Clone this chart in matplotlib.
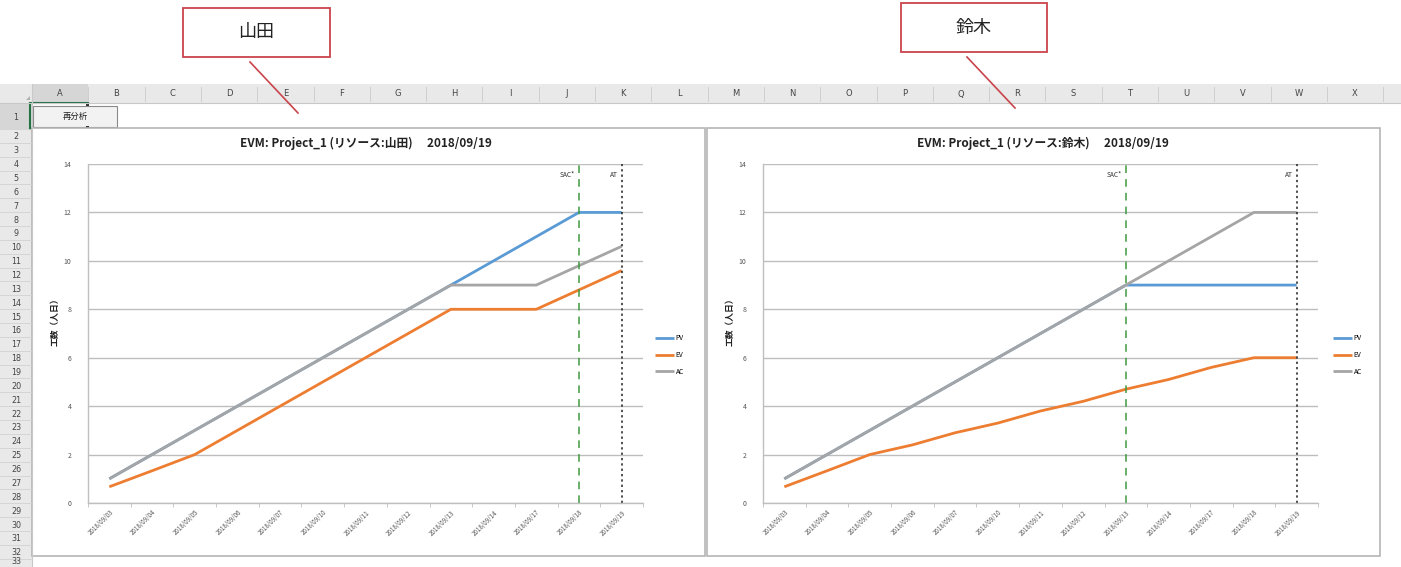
import matplotlib
matplotlib.use("Agg")
import matplotlib.pyplot as plt
from matplotlib.patches import Rectangle
from matplotlib.lines import Line2D

plt.rcParams['font.family'] = ['Noto Sans CJK JP', 'DejaVu Sans']

# ---------------- data ----------------
dates = ['2018/09/03', '2018/09/04', '2018/09/05', '2018/09/06', '2018/09/07',
         '2018/09/10', '2018/09/11', '2018/09/12', '2018/09/13', '2018/09/14',
         '2018/09/17', '2018/09/18', '2018/09/19']

yamada_pv = [1, 2, 3, 4, 5, 6, 7, 8, 9, 10, 11, 12, 12]
yamada_ev = [0.67, 1.33, 2, 3, 4, 5, 6, 7, 8, 8, 8, 8.8, 9.6]
yamada_ac = [1, 2, 3, 4, 5, 6, 7, 8, 9, 9, 9, 9.8, 10.6]

suzuki_pv = [1, 2, 3, 4, 5, 6, 7, 8, 9, 9, 9, 9, 9]
suzuki_ev = [0.67, 1.33, 2, 2.4, 2.9, 3.3, 3.8, 4.2, 4.7, 5.1, 5.6, 6, 6]
suzuki_ac = [1, 2, 3, 4, 5, 6, 7, 8, 9, 10, 11, 12, 12]

yamada_sac = '2018/09/18'
suzuki_sac = '2018/09/13'
at_date = '2018/09/19'

yticks = [0, 2, 4, 6, 8, 10, 12, 14]
columns = list('ABCDEFGHIJKLMNOPQRSTUVWX')
rows = list(range(1, 34))

titles = ['EVM: Project_1 (リソース:山田)\u3000 2018/09/19',
          'EVM: Project_1 (リソース:鈴木)\u3000 2018/09/19']
callouts = ['山田', '鈴木']

# ---------------- figure ----------------
W, H = 1401, 567
fig = plt.figure(figsize=(W / 100, H / 100), dpi=100)
fig.patch.set_facecolor('white')
bg = fig.add_axes([0, 0, 1, 1])
bg.set_xlim(0, W)
bg.set_ylim(H, 0)
bg.axis('off')

hdr_col = '#e9e9e9'
# column header bar
bg.add_patch(Rectangle((0, 84), W, 19, facecolor=hdr_col, edgecolor='none'))
bg.add_line(Line2D([0, W], [103, 103], color='#c8c8c8', lw=0.8))
# row header column
bg.add_patch(Rectangle((0, 84), 32, H - 84, facecolor=hdr_col, edgecolor='none'))
bg.add_line(Line2D([32, 32], [84, H], color='#c8c8c8', lw=0.8))

col_w = 56.3
x0 = 32
bg.add_patch(Rectangle((x0, 84), col_w, 19, facecolor='#d6d6d6', edgecolor='none'))
for i, c in enumerate(columns):
    cx = x0 + col_w * (i + 0.5)
    bg.text(cx, 94, c, ha='center', va='center', fontsize=6, color='#444444',
            family='DejaVu Sans')
    xb = x0 + col_w * (i + 1)
    bg.add_line(Line2D([xb, xb], [87, 101], color='#cfcfcf', lw=0.7))
# corner triangle
bg.add_patch(plt.Polygon([[26, 100], [30, 100], [30, 96]], closed=True,
                         facecolor='#b0b0b0', edgecolor='none'))

# rows
row_h = 13.86
for r in rows:
    if r == 1:
        cy, top, bot = 116, 103, 129
    else:
        top = 129 + row_h * (r - 2)
        bot = top + row_h
        cy = (top + bot) / 2
    if r == 1:
        bg.add_patch(Rectangle((0, top), 32, bot - top, facecolor='#d6d6d6', edgecolor='none'))
    ty = min(cy + 1, 561)
    bg.text(16, ty, str(r), ha='center', va='center', fontsize=5.8,
            color='#444444', family='DejaVu Sans')
    bg.add_line(Line2D([0, 32], [bot, bot], color='#d2d2d2', lw=0.6))

# button + selection
bg.add_patch(Rectangle((30, 103), 58, 26, facecolor='none', edgecolor='#217346', lw=1.5))
bg.add_patch(Rectangle((33, 106), 84, 21, facecolor='#f2f2f2', edgecolor='#8a8a8a', lw=0.8))
bg.text(75, 116.5, '再分析', ha='center', va='center', fontsize=6, color='#222222')
for hy in (104, 127):
    bg.add_patch(Rectangle((86, hy - 1.5), 3, 3, facecolor='#333333', edgecolor='none'))

# chart areas
chart_boxes = [(32, 128, 673, 428), (707, 128, 673, 428)]
for (cx, cy, cw, ch) in chart_boxes:
    bg.add_patch(Rectangle((cx, cy), cw, ch, facecolor='white', edgecolor='#b5b5b5', lw=1.2))

# callouts
red = '#c9444b'
callout_boxes = [(183, 8, 147, 49), (901, 3, 146, 49)]
callout_lines = [((250, 62), (298, 113)), ((967, 57), (1015, 108))]
for txt, (bx, by, bw, bh), (p1, p2) in zip(callouts, callout_boxes, callout_lines):
    bg.add_patch(Rectangle((bx, by), bw, bh, facecolor='white', edgecolor=red, lw=1.3))
    bg.text(bx + bw / 2, by + bh / 2, txt, ha='center', va='center', fontsize=13,
            color='#222222')
    bg.add_line(Line2D([p1[0], p2[0]], [p1[1], p2[1]], color=red, lw=1.2))

# ---------------- charts ----------------
PV_C, EV_C, AC_C = '#5b9bd5', '#ed7d31', '#a5a5a5'
series = [(yamada_pv, yamada_ev, yamada_ac, yamada_sac),
          (suzuki_pv, suzuki_ev, suzuki_ac, suzuki_sac)]
plot_left = [88, 763]
plot_top, plot_bot = 164, 503
plot_w = 555
legend_x = [655, 1333]
ylabel_x = [55, 730]
title_cx = [366, 1043]


def fx(px):
    return px / W


def fy(py):
    return 1 - py / H


xs = list(range(len(dates)))
for k, (pv, ev, ac, sac) in enumerate(series):
    ax = fig.add_axes([fx(plot_left[k]), fy(plot_bot), plot_w / W,
                       (plot_bot - plot_top) / H])
    ax.set_facecolor('none')
    ax.plot(xs, pv, color=PV_C, lw=2, label='PV', solid_capstyle='butt')
    ax.plot(xs, ev, color=EV_C, lw=2, label='EV', solid_capstyle='butt')
    ax.plot(xs, ac, color=AC_C, lw=2, label='AC', solid_capstyle='butt')
    ax.set_xlim(-0.5, len(dates) - 0.5)
    ax.set_ylim(0, 14)
    ax.set_yticks(yticks)
    ax.set_yticklabels([str(v) for v in yticks], fontsize=5, color='#555555')
    ax.yaxis.grid(True, color='#bdbdbd', lw=1.0)
    ax.set_axisbelow(True)
    ax.set_xticks(xs)
    ax.set_xticklabels(dates, rotation=45, ha='right', rotation_mode='anchor',
                       fontsize=4.5, color='#555555')
    ax.set_xticks([i - 0.5 for i in range(len(dates) + 1)], minor=True)
    ax.tick_params(axis='x', which='major', length=0, pad=4)
    ax.tick_params(axis='x', which='minor', length=3, color='#bfbfbf', direction='out')
    ax.tick_params(axis='y', length=0, pad=12)
    for s in ('top', 'right'):
        ax.spines[s].set_visible(False)
    ax.spines['left'].set_color('#bfbfbf')
    ax.spines['bottom'].set_color('#bfbfbf')
    ax.spines['left'].set_linewidth(1.0)
    ax.spines['bottom'].set_linewidth(1.0)

    si = dates.index(sac)
    ai = dates.index(at_date)
    ax.axvline(si, color='#3e9a3e', lw=1.1, ls=(0, (5, 4)), ymax=1.0)
    ax.axvline(ai, color='#222222', lw=1.1, ls=(0, (1.5, 2)), ymax=1.0)
    ax.text(si - 0.1, 13.55, 'SAC*', ha='right', va='center', fontsize=4.8, color='#333333')
    ax.text(ai - 0.1, 13.55, 'AT', ha='right', va='center', fontsize=4.8, color='#333333')

    fig.text(fx(ylabel_x[k]), fy(320), '工数（人日）', rotation=90, ha='center',
             va='center', fontsize=6.3, fontweight='bold', color='#222222')
    fig.text(fx(title_cx[k]), fy(143), titles[k], ha='center', va='center',
             fontsize=8.5, fontweight='bold', color='#222222')
    ax.legend(loc='center left', bbox_to_anchor=(fx(legend_x[k]), fy(355)),
              bbox_transform=fig.transFigure, frameon=False, fontsize=4.8,
              handlelength=2.8, handletextpad=0.3, labelspacing=1.3,
              borderpad=0, borderaxespad=0)

fig.savefig('out.png', dpi=100)
